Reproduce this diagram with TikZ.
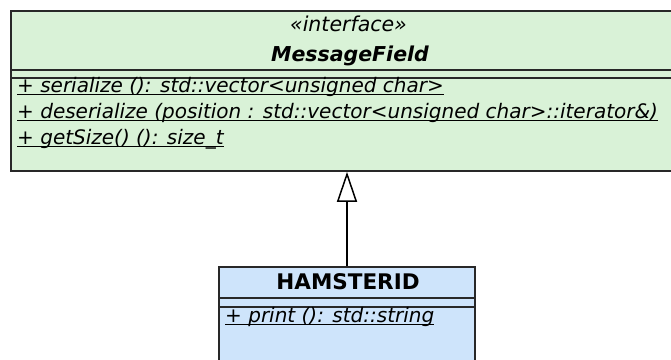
\documentclass[tikz,border=0pt]{standalone}
\usepackage{fontspec}
\setmainfont{DejaVu Sans}
\usetikzlibrary{arrows.meta}
\definecolor{ifacegreen}{RGB}{217,242,215}
\definecolor{classblue}{RGB}{206,228,251}
\definecolor{umlline}{RGB}{40,40,40}
% static member: underlined just below the baseline
\newcommand{\ulin}[1]{\setbox0\hbox{#1}\rlap{\vrule height -2pt depth 3.2pt width \wd0}\box0}

\begin{document}
\begin{tikzpicture}[x=1pt,y=-1pt,font=\fontsize{20}{24}\selectfont]
        \tikzstyle{classbox}=[draw=umlline,line width=1.6pt,rectangle,inner sep=0pt]
        \tikzstyle{member}=[anchor=base west,inner sep=0pt,font=\fontsize{20}{24}\selectfont\itshape]
        \tikzstyle{title}=[anchor=base,inner sep=0pt]

        \useasboundingbox (0,0) rectangle (671,359);
        \clip (0,0) rectangle (671,359);

        \node[classbox,fill=ifacegreen,minimum width=675pt,minimum height=160pt] (MF) at (348.5,91) { };
        \node[classbox,fill=classblue,minimum width=256pt,minimum height=110pt] (HM) at (347,322) { };

        % compartments
        \draw[umlline,line width=1.6pt] (MF.west |- 0,70) -- (MF.east |- 0,70);
        \draw[umlline,line width=1.6pt] (MF.west |- 0,78) -- (MF.east |- 0,78);
        \draw[umlline,line width=1.6pt] (HM.west |- 0,298) -- (HM.east |- 0,298);
        \draw[umlline,line width=1.6pt] (HM.west |- 0,307) -- (HM.east |- 0,307);

        \node[title,font=\fontsize{20.5}{24}\selectfont\itshape] (MF0) at (348.5,31) {«interface»};
        \node[title,font=\fontsize{20.5}{24}\selectfont\bfseries\itshape] (MF1) at (350,61) {MessageField};
        \node[member] (MF2) at (17,92)  {\ulin{+ serialize (): std::vector<unsigned char>}};
        \node[member] (MF3) at (17,118) {\ulin{+ deserialize (position : std::vector<unsigned char>::iterator\&)}};
        \node[member] (MF4) at (17,144) {\ulin{+ getSize() (): size\_t}};

        \node[title,font=\fontsize{21.5}{24}\selectfont\bfseries] (HM1) at (348,289) {HAMSTERID};
        \node[member] (HM2) at (225,322) {\ulin{+ print (): std::string}};

        \draw[-{Triangle[open,length=30pt,width=20pt]},line width=1.5pt] (HM.north) -- (HM.north |- MF.south);
\end{tikzpicture}
\end{document}
